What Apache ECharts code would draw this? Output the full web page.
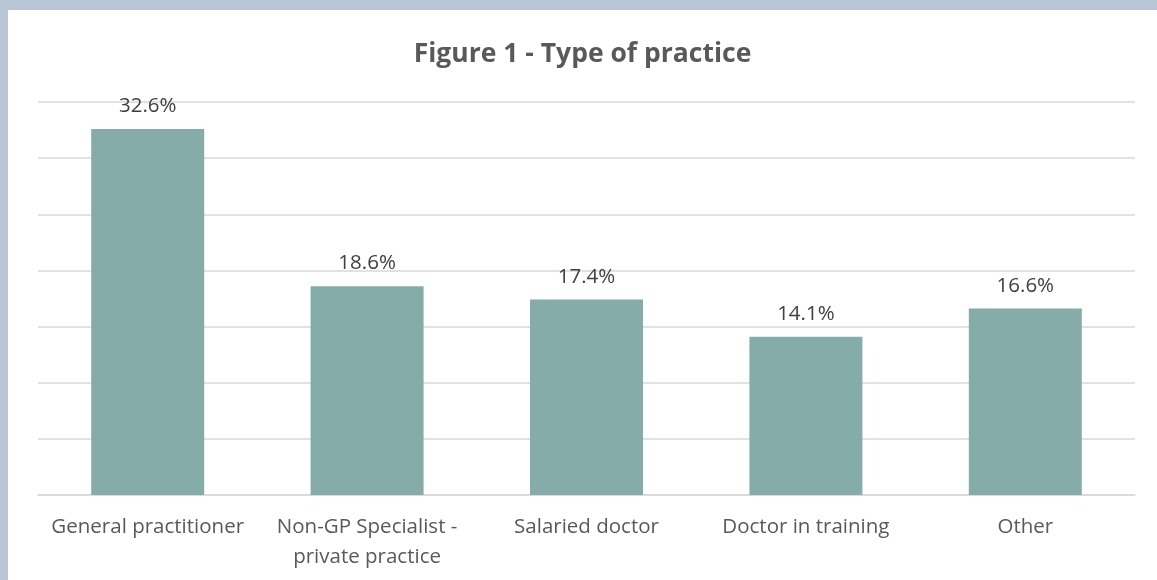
<!DOCTYPE html>
<html><head><meta charset="utf-8">
<script src="https://cdn.jsdelivr.net/npm/echarts@6/dist/echarts.min.js"></script>
<style>
html,body{margin:0;padding:0;width:1157px;height:580px;background:#b9c4d5;overflow:hidden}
#c{position:absolute;left:8px;top:10px;width:1149px;height:570px;background:#fff}
</style></head><body>
<div id="c"></div>
<script>
const categories = ["General practitioner", "Non-GP Specialist -\nprivate practice", "Salaried doctor", "Doctor in training", "Other"];
const values = [32.6, 18.6, 17.4, 14.1, 16.6];
const titleText = "Figure 1 - Type of practice";

const chart = echarts.init(document.getElementById('c'), null, {renderer:'canvas'});
chart.setOption({
  animation:false,
  backgroundColor:'#ffffff',
  title:{text:titleText,left:'center',top:26,textStyle:{fontFamily:'Open Sans',fontWeight:'bold',fontSize:26.5,color:'#595959'}},
  grid:{left:30,right:22,top:92,bottom:85,containLabel:false},
  xAxis:{type:'category',data:categories,
    axisLine:{lineStyle:{color:'#d9d9d9',width:1.5}},axisTick:{show:false},
    axisLabel:{color:'#595959',fontFamily:'Open Sans',fontSize:20.5,margin:17,lineHeight:30,interval:0}},
  yAxis:{type:'value',min:0,max:35,interval:5,
    axisLabel:{show:false},axisLine:{show:false},axisTick:{show:false},
    splitLine:{lineStyle:{color:'#d9d9d9',width:1.5}}},
  series:[{type:'bar',data:values,barWidth:'51.5%',
    itemStyle:{color:'#86acaa'},
    label:{show:true,position:'top',distance:12,formatter:p=>p.value.toFixed(1)+'%',
      color:'#404040',fontFamily:'Open Sans',fontSize:20.5}}]
});
</script></body></html>
